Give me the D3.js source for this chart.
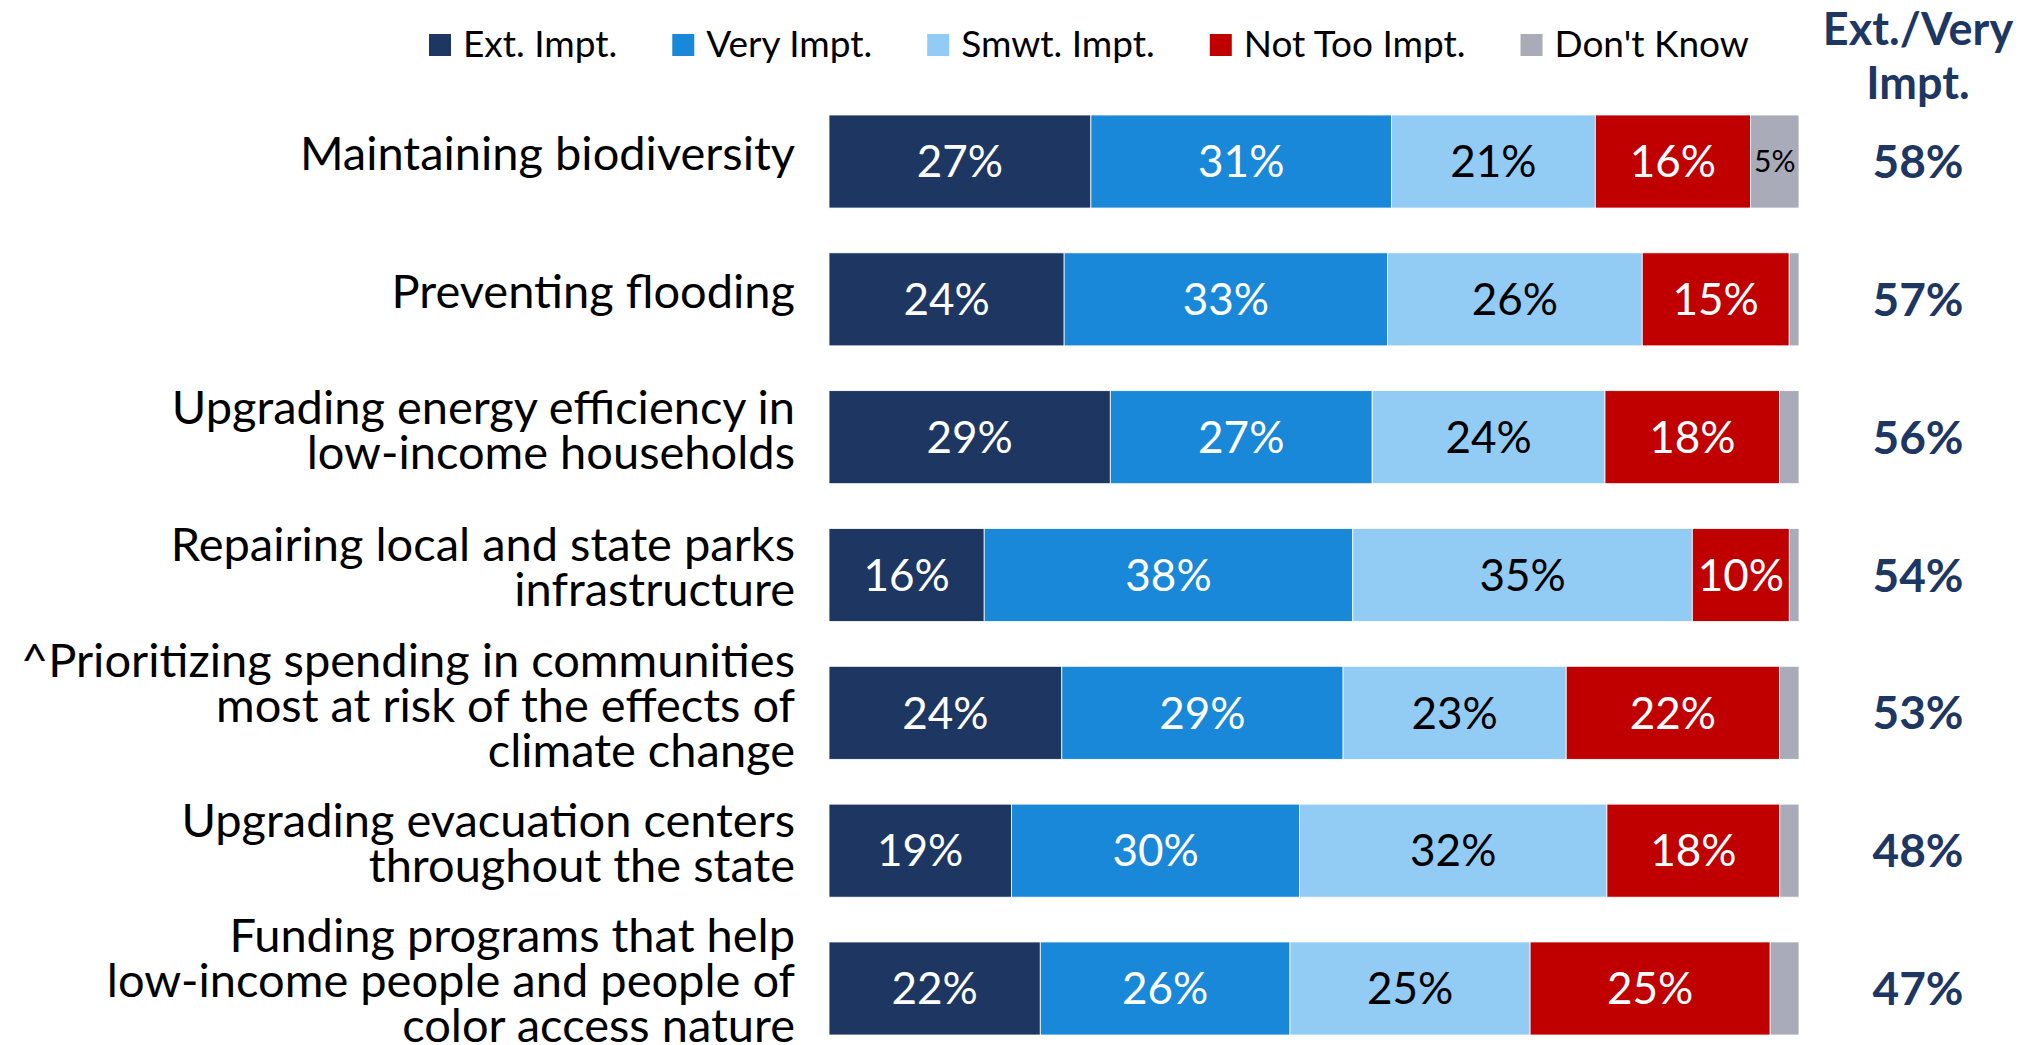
<!DOCTYPE html>
<html>
<head>
<meta charset="utf-8">
<script src="https://cdn.jsdelivr.net/npm/d3@7"></script>
<style>
  body { margin: 0; background: #fff; }
  text { font-family: Lato, "Open Sans", sans-serif; }
</style>
</head>
<body>
<div id="chart"></div>
<script>
const width = 2032,
    height = 1045

// data
const categories = [
    ["Maintaining biodiversity"],
    ["Preventing flooding"],
    ["Upgrading energy efficiency in", "low-income households"],
    ["Repairing local and state parks", "infrastructure"],
    ["^Prioritizing spending in communities", "most at risk of the effects of", "climate change"],
    ["Upgrading evacuation centers", "throughout the state"],
    ["Funding programs that help", "low-income people and people of", "color access nature"]
]
const seriesNames = ["Ext. Impt.", "Very Impt.", "Smwt. Impt.", "Not Too Impt.", "Don't Know"]
const extImpt = [27, 24, 29, 16, 24, 19, 22]
const veryImpt = [31, 33, 27, 38, 29, 30, 26]
const smwtImpt = [21, 26, 24, 35, 23, 32, 25]
const notTooImpt = [16, 15, 18, 10, 22, 18, 25]
const dontKnow = [5, 1, 2, 1, 2, 2, 3]
const extVery = [58, 57, 56, 54, 53, 48, 47]
const headerLines = ["Ext./Very", "Impt."]

const colors = ["#1E3762", "#1A88D8", "#92CBF3", "#C00000", "#A9ABB8"]
const labelColors = ["#fff", "#fff", "#000", "#fff", "#000"]
const navy = "#1E3762"

const rows = categories.map((c, i) => ({
    idx: i,
    "Ext. Impt.": extImpt[i],
    "Very Impt.": veryImpt[i],
    "Smwt. Impt.": smwtImpt[i],
    "Not Too Impt.": notTooImpt[i],
    "Don't Know": dontKnow[i]
}))

var svg = d3.select("#chart")
    .append("svg")
    .attr("width", width)
    .attr("height", height)

var x = d3.scaleLinear().domain([0, 1]).range([829, 1799])
var y = d3.scaleBand()
    .domain(d3.range(categories.length))
    .range([115, 1035])
    .paddingInner(0.325)
    .paddingOuter(0)

var color = d3.scaleOrdinal().domain(seriesNames).range(colors)
var labelColor = d3.scaleOrdinal().domain(seriesNames).range(labelColors)

// 100% stacked, like the original
var stacked = d3.stack()
    .keys(seriesNames)
    .offset(d3.stackOffsetExpand)(rows)

var layer = svg.append("g")
    .attr("class", "bars")
    .selectAll("g")
    .data(stacked)
    .enter()
    .append("g")
    .attr("fill", d => color(d.key))

layer.selectAll("rect")
    .data(d => d.map(p => Object.assign(p, { key: d.key })))
    .enter()
    .append("rect")
    .attr("x", d => x(d[0]))
    .attr("y", d => y(d.data.idx))
    .attr("width", d => x(d[1]) - x(d[0]))
    .attr("height", y.bandwidth())
    .attr("stroke", "#fff")
    .attr("stroke-width", 0.8)

// value labels in the segments (tiny Don't Know slivers stay unlabeled)
layer.selectAll("text")
    .data(d => d.filter(p => p.data[d.key] >= 5))
    .enter()
    .append("text")
    .attr("x", d => (x(d[0]) + x(d[1])) / 2)
    .attr("y", d => y(d.data.idx) + y.bandwidth() / 2)
    .attr("dy", "0.36em")
    .attr("text-anchor", "middle")
    .attr("fill", d => labelColor(d.key))
    .style("font-size", d => d.key === "Don't Know" ? "30px" : "44px")
    .text(d => d.data[d.key] + "%")

// category labels
var cat = svg.append("g")
    .attr("class", "categories")
    .selectAll("text")
    .data(categories)
    .enter()
    .append("text")
    .attr("transform", (d, i) => {
        const cy = y(i) + y.bandwidth() / 2 - 8
        const top = cy - (d.length - 1) * 45 / 2
        return `translate(795,${top})`
    })
    .attr("text-anchor", "end")
    .style("font-size", "47px")
    .attr("fill", "#000")

cat.selectAll("tspan")
    .data(d => d)
    .enter()
    .append("tspan")
    .attr("x", 0)
    .attr("y", (d, i) => i * 45)
    .attr("dy", "0.36em")
    .text(d => d)

// Ext./Very column
svg.append("g")
    .selectAll("text")
    .data(headerLines)
    .enter()
    .append("text")
    .attr("x", 1918)
    .attr("y", (d, i) => 45 + i * 54)
    .attr("text-anchor", "middle")
    .attr("fill", navy)
    .style("font-size", "45px")
    .style("font-weight", "bold")
    .text(d => d)

svg.append("g")
    .selectAll("text")
    .data(extVery)
    .enter()
    .append("text")
    .attr("x", 1918)
    .attr("y", (d, i) => y(i) + y.bandwidth() / 2)
    .attr("dy", "0.36em")
    .attr("text-anchor", "middle")
    .attr("fill", navy)
    .style("font-size", "46px")
    .style("font-weight", "bold")
    .text(d => d + "%")

// legend
var legend = svg.append("g").attr("class", "legend")
var lx = 429
seriesNames.forEach((name, i) => {
    legend.append("rect")
        .attr("x", lx)
        .attr("y", 34)
        .attr("width", 22)
        .attr("height", 22)
        .attr("fill", color(name))
    var t = legend.append("text")
        .attr("x", lx + 34)
        .attr("y", 44)
        .attr("dy", "0.36em")
        .style("font-size", "37px")
        .attr("fill", "#000")
        .text(name)
    lx += 34 + t.node().getComputedTextLength() + 55
})
</script>
</body>
</html>
